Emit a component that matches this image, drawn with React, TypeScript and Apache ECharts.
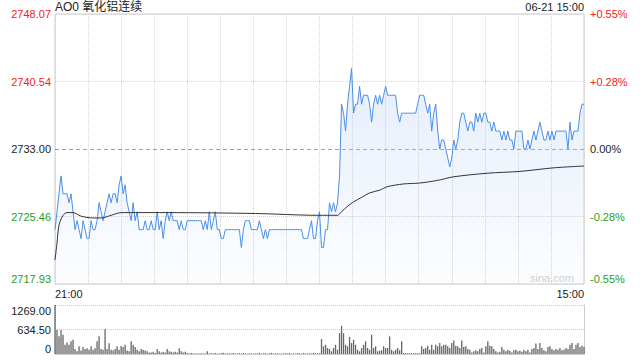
import React, { useEffect, useRef } from 'react';
import * as echarts from 'echarts';

const titleText = 'AO0 氧化铝连续';
const dateText = '06-21 15:00';
const watermark = 'sina.com';

const prevSettle = 2733;
const yMin = 2717.93;
const yMax = 2748.07;
const volMax = 1269;

const leftLabels = ['2717.93', '2725.46', '2733.00', '2740.54', '2748.07'];
const rightLabels = ['-0.55%', '-0.28%', '0.00%', '+0.28%', '+0.55%'];
const labelColors = ['#1ea01e', '#1ea01e', '#222222', '#f22222', '#f22222'];
const volLabels = ['0', '634.50', '1269.00'];
const timeLabels = ['21:00', '15:00'];

const prices = [
  2724, 2726, 2728, 2730, 2728, 2728, 2728, 2727, 2728, 2726,
  2724, 2725, 2724, 2723, 2725, 2724, 2723, 2723, 2725, 2724,
  2724, 2725, 2727, 2726, 2725, 2726, 2727, 2728, 2727, 2728,
  2728, 2727, 2729, 2730, 2728, 2729, 2727, 2726, 2725, 2727,
  2725, 2726, 2724, 2724, 2724, 2725, 2724, 2724, 2725, 2724,
  2724, 2726, 2724, 2725, 2723, 2725, 2726, 2725, 2726, 2725,
  2725, 2725, 2724, 2725, 2724, 2724, 2725, 2725, 2725, 2725,
  2725, 2725, 2725, 2725, 2724, 2725, 2724, 2726, 2724, 2725,
  2726, 2724, 2724, 2723, 2723, 2724, 2724, 2724, 2724, 2724,
  2724, 2724, 2724, 2722, 2724, 2725, 2725, 2725, 2724, 2724,
  2724, 2724, 2725, 2724, 2723, 2724, 2723, 2724, 2724, 2724,
  2724, 2724, 2724, 2724, 2724, 2724, 2724, 2724, 2724, 2724,
  2724, 2724, 2724, 2724, 2723, 2723, 2723, 2724, 2725, 2723,
  2723, 2725, 2726, 2722, 2722, 2724, 2724, 2727, 2726, 2727,
  2726, 2727, 2730, 2738, 2737, 2735, 2738, 2740, 2742, 2737,
  2738, 2738, 2740, 2738, 2739, 2739, 2739, 2738, 2736, 2738,
  2739, 2738, 2739, 2738, 2739, 2740, 2739, 2739, 2739, 2739,
  2739, 2737, 2736, 2737, 2737, 2737, 2737, 2737, 2737, 2737,
  2737, 2738, 2739, 2739, 2739, 2738, 2737, 2738, 2735, 2737,
  2738, 2735, 2733, 2734, 2734, 2733, 2732, 2731, 2732, 2734,
  2733, 2734, 2736, 2737, 2737, 2736, 2735, 2736, 2736, 2735,
  2737, 2736, 2737, 2736, 2737, 2737, 2736, 2736, 2735, 2736,
  2735, 2735, 2735, 2734, 2735, 2734, 2735, 2734, 2734, 2733,
  2735, 2735, 2735, 2735, 2733, 2733, 2734, 2733, 2734, 2735,
  2734, 2735, 2736, 2735, 2734, 2734, 2735, 2734, 2735, 2734,
  2735, 2735, 2735, 2735, 2735, 2735, 2733, 2736, 2734, 2735,
  2735, 2735, 2737, 2738, 2738,
];

const volumes = [
  1269, 630, 460, 620, 500, 240, 300, 240, 330, 370,
  130, 70, 200, 90, 180, 130, 150, 110, 200, 110,
  150, 330, 460, 130, 110, 650, 130, 280, 110, 90,
  130, 200, 110, 210, 180, 240, 90, 70, 330, 240,
  180, 110, 70, 130, 110, 90, 70, 40, 40, 60,
  25, 130, 70, 40, 60, 40, 130, 70, 60, 40,
  60, 40, 150, 70, 40, 60, 25, 15, 25, 15,
  15, 15, 10, 20, 15, 10, 70, 15, 20, 10,
  25, 15, 10, 20, 30, 15, 10, 20, 15, 25,
  10, 15, 20, 10, 25, 15, 10, 20, 15, 10,
  20, 15, 30, 10, 15, 20, 10, 15, 25, 10,
  15, 20, 10, 15, 10, 20, 15, 25, 10, 15,
  10, 20, 15, 10, 25, 15, 10, 20, 15, 30,
  15, 20, 20, 390, 200, 240, 155, 130, 70, 155,
  240, 110, 540, 730, 540, 240, 200, 440, 285, 370,
  240, 110, 70, 155, 240, 330, 155, 110, 500, 155,
  200, 70, 85, 95, 200, 155, 155, 455, 110, 70,
  110, 155, 95, 330, 25, 20, 20, 20, 20, 20,
  20, 20, 20, 200, 130, 155, 215, 110, 240, 110,
  240, 200, 285, 200, 240, 240, 200, 155, 285, 350,
  215, 200, 155, 350, 180, 200, 130, 110, 40, 70,
  95, 70, 130, 155, 40, 200, 330, 215, 200, 130,
  70, 40, 60, 180, 110, 70, 110, 85, 40, 95,
  110, 70, 85, 60, 110, 70, 110, 40, 130, 155,
  270, 130, 285, 155, 95, 70, 180, 200, 130, 95,
  130, 110, 155, 95, 110, 155, 130, 240, 285, 130,
  240, 285, 180, 215, 180,
];

const avgIdx = [0, 1, 2, 4, 6, 9, 13, 19, 23, 28, 33, 40, 56, 100, 131, 141, 143, 146, 149, 153, 157, 162, 166, 174, 182, 191, 199, 216, 232, 249, 264];
const avgVals = [2720.6, 2722.5, 2724.5, 2725.6, 2725.9, 2725.9, 2725.5, 2725.3, 2725.3, 2725.6, 2725.9, 2725.9, 2725.9, 2725.8, 2725.6, 2725.6, 2726.0, 2726.6, 2727.1, 2727.6, 2728.1, 2728.4, 2728.8, 2729.1, 2729.2, 2729.5, 2729.9, 2730.3, 2730.5, 2730.9, 2731.1];

const FONT = "'Liberation Sans', Arial, 'Noto Sans CJK SC', sans-serif";

export default function App() {
  const ref = useRef<HTMLDivElement>(null);
  useEffect(() => {
    if (!ref.current) return;
    const chart = echarts.init(ref.current, undefined, { renderer: 'svg' });
    const cats = prices.map((_, i) => i);
    const gridColor = '#cccccc';
    const splitC = '#d4d4d4';
    const clear = 'rgba(0,0,0,0)';
    chart.setOption({
      animation: false,
      textStyle: { fontFamily: FONT },
      title: [
        { text: titleText, left: 55, top: 1, padding: 0, textStyle: { fontSize: 12, fontWeight: 'normal', color: '#222', fontFamily: FONT } },
        { text: dateText, right: 56, top: 1, padding: 0, textStyle: { fontSize: 11, fontWeight: 'normal', color: '#222', fontFamily: FONT } },
      ],
      grid: [
        { left: 55, top: 14, width: 529, height: 270, show: true, borderColor: gridColor, borderWidth: 1, backgroundColor: 'transparent' },
        { left: 55, top: 305, width: 529, height: 49 },
      ],
      xAxis: [
        { type: 'category', gridIndex: 0, data: cats, boundaryGap: false, show: false },
        {
          type: 'value', gridIndex: 0, min: 0, max: 16, interval: 1, position: 'bottom',
          axisLine: { show: false }, axisTick: { show: false },
          axisLabel: {
            fontSize: 11, color: '#222', margin: 4,
            formatter: (v: number) => (v === 0 ? timeLabels[0] : v === 16 ? timeLabels[1] : ''),
            alignMinLabel: 'left', alignMaxLabel: 'right', showMinLabel: true, showMaxLabel: true,
          },
          splitLine: { show: true, lineStyle: { color: splitC, type: 'dotted', width: 1 } },
        },
        {
          type: 'category', gridIndex: 1, data: cats, boundaryGap: false,
          axisLine: { show: true, lineStyle: { color: gridColor } },
          axisTick: { show: false }, axisLabel: { show: false }, splitLine: { show: false },
        },
      ],
      yAxis: [
        {
          type: 'value', gridIndex: 0, position: 'left', min: yMin, max: yMax, interval: (yMax - yMin) / 4,
          axisLine: { show: false }, axisTick: { show: false },
          axisLabel: {
            fontSize: 11, margin: 4,
            formatter: (_v: number, i: number) => leftLabels[i],
            color: (_v: any, i: number) => labelColors[i],
            verticalAlignMinLabel: 'bottom', verticalAlignMaxLabel: 'top',
          },
          splitLine: { show: true, lineStyle: { color: [splitC, splitC, clear, splitC, splitC], type: 'dotted', width: 1 } },
        },
        {
          type: 'value', gridIndex: 0, position: 'right', min: yMin, max: yMax, interval: (yMax - yMin) / 4,
          axisLine: { show: false }, axisTick: { show: false },
          axisLabel: {
            fontSize: 11, margin: 6,
            formatter: (_v: number, i: number) => rightLabels[i],
            color: (_v: any, i: number) => labelColors[i],
            verticalAlignMinLabel: 'bottom', verticalAlignMaxLabel: 'top',
          },
          splitLine: { show: false },
        },
        {
          type: 'value', gridIndex: 1, position: 'left', min: 0, max: volMax, interval: volMax / 2,
          axisLine: { show: true, lineStyle: { color: gridColor } }, axisTick: { show: false },
          axisLabel: {
            fontSize: 11, margin: 4, color: '#222',
            formatter: (_v: number, i: number) => volLabels[i],
            verticalAlignMinLabel: 'bottom', verticalAlignMaxLabel: 'top',
          },
          splitLine: { show: true, lineStyle: { color: '#c8c8c8', type: 'dotted', width: 1 } },
        },
        {
          type: 'value', gridIndex: 1, position: 'right', min: 0, max: volMax,
          axisLine: { show: true, lineStyle: { color: gridColor } }, axisTick: { show: false },
          axisLabel: { show: false }, splitLine: { show: false },
        },
        {
          type: 'value', gridIndex: 0, position: 'left', min: yMin, max: yMax, interval: prevSettle - yMin,
          axisLine: { show: false }, axisTick: { show: false }, axisLabel: { show: false },
          splitLine: { show: true, lineStyle: { color: [clear, '#ee8a50', clear], type: [4, 3], width: 1 } },
        },
      ],
      graphic: [
        { type: 'text', right: 66, top: 272, style: { text: watermark, fill: '#cfcfcf', font: `11px ${FONT}` } },
      ],
      series: [
        {
          type: 'line', xAxisIndex: 0, yAxisIndex: 0, data: prices,
          symbol: 'none', showSymbol: false,
          lineStyle: { color: '#4a8ee8', width: 1 },
          areaStyle: {
            origin: 'start',
            color: new echarts.graphic.LinearGradient(0, 0, 0, 1, [
              { offset: 0, color: 'rgba(180,205,245,0.5)' },
              { offset: 1, color: 'rgba(180,205,245,0.06)' },
            ]),
          },
          z: 3,
        },
        {
          type: 'line', xAxisIndex: 0, yAxisIndex: 0,
          data: avgIdx.map((x, k) => [x, avgVals[k]]),
          symbol: 'none', showSymbol: false, smooth: 0.3,
          lineStyle: { color: '#333', width: 1 }, z: 4,
        },
        {
          type: 'bar', xAxisIndex: 2, yAxisIndex: 2, data: volumes,
          barWidth: 1.3, itemStyle: { color: '#666' },
        },
      ],
    });
    return () => chart.dispose();
  }, []);
  return <div ref={ref} style={{ position: 'absolute', left: 0, top: 0, width: 640, height: 360 }} />;
}
